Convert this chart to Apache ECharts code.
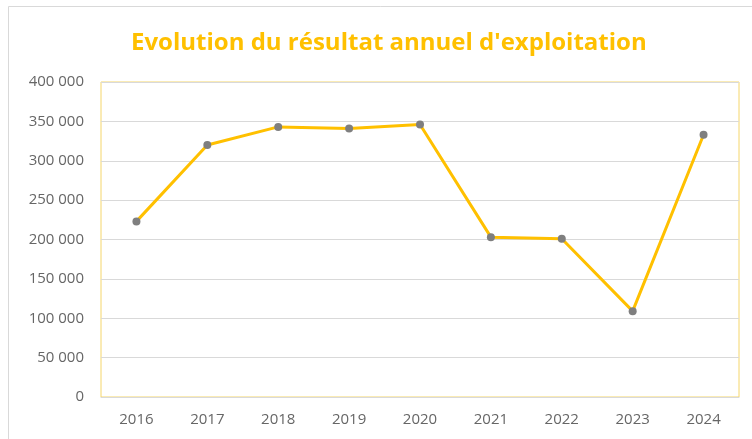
<!DOCTYPE html>
<html>
<head>
<meta charset="utf-8">
<script src="https://cdn.jsdelivr.net/npm/echarts@6/dist/echarts.min.js"></script>
<style>
html,body{margin:0;padding:0;background:#fff;}
#main{width:752px;height:439px;}
</style>
</head>
<body>
<div id="main"></div>
<script>
// données
var years = ["2016", "2017", "2018", "2019", "2020", "2021", "2022", "2023", "2024"];
var resultat = [223000, 320000, 343000, 341000, 346000, 203000, 201000, 109000, 333000];
var yTicks = [0, 50000, 100000, 150000, 200000, 250000, 300000, 350000, 400000];

// format "400 000"
function fmt(v){
    return String(v).replace(/\B(?=(\d{3})+(?!\d))/g, " ");
}

var myChart = echarts.init(document.getElementById("main"));
var option = {
    animation: false,
    backgroundColor: "#fff",
    title: {
        text: "Evolution du résultat annuel d'exploitation",
        left: 126,
        top: 26,
        textStyle: {
            color: "#FFC000",
            fontFamily: "Open Sans",
            fontWeight: "bold",
            fontSize: 24
        }
    },
    graphic: [{
        type: "rect",
        shape: {x: 8.5, y: 6.5, width: 760, height: 440},
        style: {fill: "none", stroke: "#d9d9d9", lineWidth: 1},
        silent: true
    }],
    grid: {
        left: 101,
        right: 13,
        top: 82,
        bottom: 42,
        show: true,
        borderColor: "#F5D66A",
        borderWidth: 1
    },
    xAxis: {
        type: "category",
        data: years,
        boundaryGap: true,
        axisLine: {show: true, lineStyle: {color: "#d9d9d9"}},
        axisTick: {show: false},
        axisLabel: {color: "#666", fontSize: 15, fontFamily: "Open Sans", margin: 15}
    },
    yAxis: {
        type: "value",
        min: yTicks[0],
        max: yTicks[yTicks.length - 1],
        interval: 50000,
        axisLine: {show: false},
        axisTick: {show: false},
        splitLine: {lineStyle: {color: "#d9d9d9"}},
        axisLabel: {
            color: "#666",
            fontSize: 15,
            fontFamily: "Open Sans",
            margin: 17,
            formatter: function(v){ return fmt(v); }
        }
    },
    series: [{
        type: "line",
        data: resultat,
        symbol: "circle",
        symbolSize: 8,
        lineStyle: {color: "#FFC000", width: 3},
        itemStyle: {color: "#7f7f7f"}
    }]
};
myChart.setOption(option);
</script>
</body>
</html>
